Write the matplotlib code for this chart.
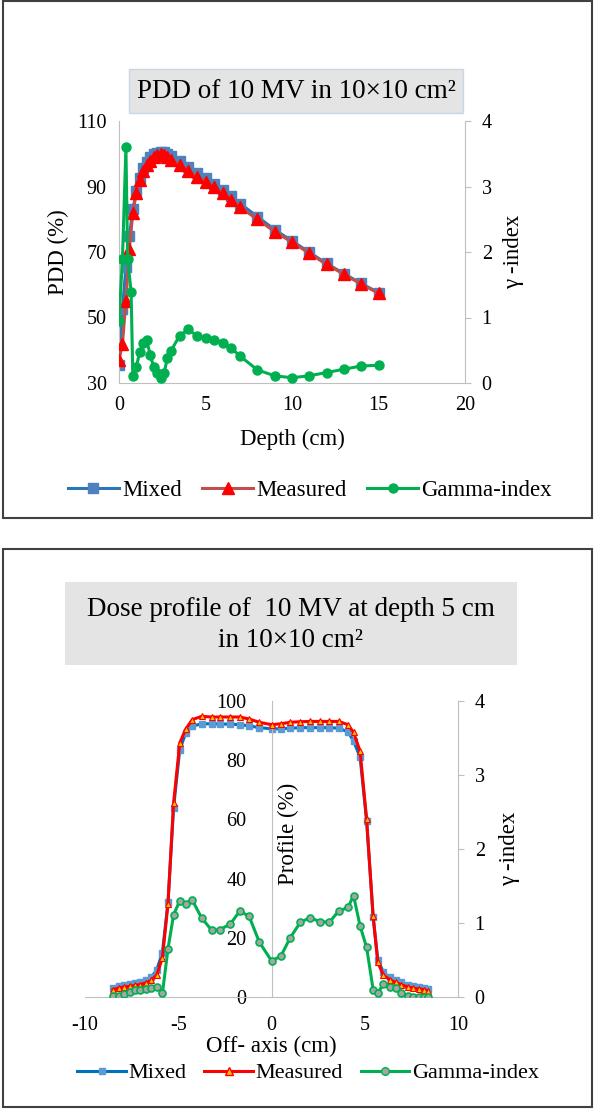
import numpy as np
import matplotlib
matplotlib.use('Agg')
import matplotlib.pyplot as plt
from matplotlib.patches import Rectangle
from matplotlib.lines import Line2D

plt.rcParams['font.family'] = ['Liberation Serif', 'DejaVu Serif']
plt.rcParams['axes.unicode_minus'] = False

# ---- PDD data (top chart) ----
pdd_depth = [0, 0.2, 0.4, 0.6, 0.8, 1.0, 1.2, 1.4, 1.6, 1.8, 2.0, 2.2, 2.4, 2.6, 2.8, 3.0,
             3.5, 4.0, 4.5, 5.0, 5.5, 6.0, 6.5, 7.0, 8, 9, 10, 11, 12, 13, 14, 15]
pdd_mixed = [35.5, 52.5, 65.5, 75.0, 83.0, 88.5, 92.5, 95.5, 97.5, 99.0, 99.8, 100.3, 100.5,
             100.4, 100.0, 99.3, 97.8, 96.0, 94.2, 92.6, 90.8, 88.9, 87.0, 84.8, 80.8, 76.8,
             73.4, 69.9, 66.5, 63.4, 60.4, 57.6]
pdd_measured = [37.0, 42.0, 55.0, 71.0, 82.0, 88.0, 92.0, 94.8, 96.6, 97.9, 98.9, 99.6, 99.9,
                99.6, 98.9, 98.2, 96.6, 94.8, 93.0, 91.4, 89.8, 87.9, 86.0, 83.6, 80.0, 76.2,
                73.0, 69.6, 66.2, 63.2, 60.2, 57.4]
gam_depth = [0, 0.2, 0.4, 0.5, 0.7, 0.8, 1.0, 1.2, 1.4, 1.6, 1.8, 2.0, 2.2, 2.4, 2.6, 2.8,
             3.0, 3.5, 4.0, 4.5, 5.0, 5.5, 6.0, 6.5, 7.0, 8, 9, 10, 11, 12, 13, 14, 15]
gam_pdd = [0.95, 1.90, 3.60, 1.90, 1.39, 0.10, 0.25, 0.47, 0.61, 0.66, 0.43, 0.25, 0.16, 0.08,
           0.15, 0.38, 0.49, 0.72, 0.82, 0.72, 0.68, 0.66, 0.61, 0.53, 0.41, 0.20, 0.11, 0.08,
           0.11, 0.16, 0.21, 0.26, 0.27]

# ---- dose profile data (bottom chart) ----
off_axis = [-8.5, -8.2, -7.9, -7.6, -7.3, -7.05, -6.75, -6.45, -6.15, -5.85, -5.55, -5.25,
            -4.92, -4.6, -4.25, -3.75, -3.2, -2.75, -2.2, -1.7, -1.2, -0.65, 0, 0.5, 1.0,
            1.55, 2.05, 2.6, 3.1, 3.6, 4.1, 4.4, 4.75, 5.1, 5.45, 5.7, 6.0, 6.35, 6.65,
            6.95, 7.3, 7.6, 7.9, 8.2, 8.4]
prof_mixed = [3.0, 3.6, 4.0, 4.3, 4.6, 5.0, 5.6, 6.6, 9.2, 15.0, 32.0, 64.0, 83.5, 89.2, 91.5,
              92.3, 92.3, 92.2, 92.2, 92.0, 91.6, 91.0, 90.6, 90.6, 90.8, 91.0, 91.0, 91.0,
              91.0, 90.8, 89.6, 86.5, 81.0, 59.5, 27.0, 12.6, 8.3, 6.6, 5.6, 4.9, 4.2, 3.7,
              3.3, 3.0, 2.6]
prof_measured = [2.5, 3.0, 3.4, 3.6, 3.9, 4.2, 4.7, 5.6, 7.5, 13.2, 31.5, 65.5, 85.8, 90.5,
                 93.7, 94.8, 94.6, 94.6, 94.6, 94.6, 93.9, 92.8, 92.0, 92.3, 92.8, 93.0, 93.1,
                 93.1, 93.1, 93.1, 92.0, 89.4, 83.0, 60.0, 27.2, 11.7, 7.4, 5.8, 4.9, 4.2,
                 3.4, 3.0, 2.7, 2.5, 1.9]
gam_prof = [0.01, 0.02, 0.04, 0.07, 0.09, 0.10, 0.11, 0.12, 0.14, 0.05, 0.65, 1.11, 1.30,
            1.26, 1.31, 1.07, 0.90, 0.91, 0.99, 1.16, 1.09, 0.74, 0.49, 0.55, 0.80, 1.01,
            1.07, 1.02, 1.01, 1.16, 1.21, 1.37, 0.96, 0.67, 0.10, 0.06, 0.17, 0.13, 0.12,
            0.06, 0.01, 0.0, 0.0, 0.0, 0.0]

W, H = 600, 1120
fig = plt.figure(figsize=(W / 100, H / 100), dpi=100)

def px_axes(x0, y0, x1, y1):
    # pixel box (top-left origin) -> figure fraction
    return [x0 / W, 1 - y1 / H, (x1 - x0) / W, (y1 - y0) / H]

def px_rect(x0, y0, x1, y1, **kw):
    r = Rectangle((x0 / W, 1 - y1 / H), (x1 - x0) / W, (y1 - y0) / H,
                  transform=fig.transFigure, **kw)
    fig.patches.append(r)

grey = '#BFBFBF'
tick_fs = 14.5
lab_fs = 16.5

# outer frames + title boxes
px_rect(3, 1, 592, 518, fill=False, edgecolor='#404040', lw=1.5)
px_rect(3, 549, 592, 1107, fill=False, edgecolor='#404040', lw=1.5)
px_rect(129, 69, 463, 113, facecolor='#E4E4E4', edgecolor='#C9D6E6', lw=1)
px_rect(65, 582, 517, 665, facecolor='#E4E4E4', edgecolor='none')
fig.text(296 / W, 1 - 91 / H, 'PDD of 10 MV in 10×10 cm²', ha='center', va='center', fontsize=19.5)
fig.text(291 / W, 1 - 625 / H, 'Dose profile of  10 MV at depth 5 cm\nin 10×10 cm²',
         ha='center', va='center', fontsize=19.5, linespacing=1.3)

# ---------------- top chart ----------------
ax1 = fig.add_axes(px_axes(119, 121, 465, 383))
ax1.plot(pdd_depth, pdd_mixed, color='#2E75B6', lw=2.2, marker='s', ms=7,
         mfc='#4F81BD', mec='#4F81BD', zorder=2)
ax1.plot(pdd_depth, pdd_measured, color='#C0504D', lw=2.2, marker='^', ms=8,
         mfc='#FF0000', mec='#FF0000', zorder=3)
ax1.set_xlim(0, 20)
ax1.set_ylim(30, 110)
ax1.set_xticks([0, 5, 10, 15, 20])
ax1.set_yticks([30, 50, 70, 90, 110])
ax1.set_xlabel('Depth (cm)', fontsize=lab_fs, labelpad=10)
ax1.set_ylabel('PDD (%)', fontsize=lab_fs, labelpad=6)
ax2 = ax1.twinx()
ax2.plot(gam_depth, gam_pdd, color='#00B050', lw=2.2, marker='o', ms=6.5,
         mfc='#00B050', mec='#00B050')
ax2.set_ylim(0, 4)
ax2.set_yticks([0, 1, 2, 3, 4])
ax2.set_ylabel('γ -index', fontsize=lab_fs, labelpad=8)
for a in (ax1, ax2):
    for s in a.spines.values():
        s.set_visible(False)
    a.tick_params(labelsize=tick_fs, colors='black')
ax1.spines['left'].set_visible(True)
ax1.spines['bottom'].set_visible(True)
ax1.spines['left'].set_color(grey)
ax1.spines['bottom'].set_color(grey)
ax1.tick_params(length=0, pad=9)
ax2.spines['right'].set_visible(True)
ax2.spines['right'].set_color(grey)
ax2.tick_params(axis='y', length=4, color=grey, pad=8)

h_mix = Line2D([], [], color='#2E75B6', lw=2.2, marker='s', ms=7, mfc='#4F81BD', mec='#4F81BD')
h_mea = Line2D([], [], color='#C0504D', lw=2.2, marker='^', ms=8, mfc='#FF0000', mec='#FF0000')
h_gam = Line2D([], [], color='#00B050', lw=2.2, marker='o', ms=6.5, mfc='#00B050', mec='#00B050')
fig.legend([h_mix, h_mea, h_gam], ['Mixed', 'Measured', 'Gamma-index'], ncol=3,
           loc='center', bbox_to_anchor=(310 / W, 1 - 490 / H), frameon=False,
           fontsize=lab_fs, handlelength=2.2, handletextpad=0.15, columnspacing=0.9)

# ---------------- bottom chart ----------------
bx1 = fig.add_axes(px_axes(85, 701, 458, 997))
bx1.plot(off_axis, prof_mixed, color='#0070C0', lw=2.2, marker='s', ms=4.5,
         mfc='#5B9BD5', mec='#5B9BD5', zorder=2)
bx1.plot(off_axis, prof_measured, color='#FF0000', lw=2.2, marker='^', ms=5,
         mfc='#FFC000', mec='#FF0000', mew=0.8, zorder=3)
bx1.set_xlim(-10, 10)
bx1.set_ylim(0, 100)
bx1.set_xticks([-10, -5, 0, 5, 10])
bx1.set_yticks([0, 20, 40, 60, 80, 100])
bx1.set_xlabel('Off- axis (cm)', fontsize=lab_fs, labelpad=0)
bx1.text(0.545, 0.55, 'Profile (%)', transform=bx1.transAxes, rotation=90,
         ha='center', va='center', fontsize=lab_fs)
bx2 = bx1.twinx()
bx2.plot(off_axis, gam_prof, color='#00B050', lw=2.2, marker='o', ms=5,
         mfc='#A5A5A5', mec='#00B050', mew=1.2)
bx2.set_ylim(0, 4)
bx2.set_yticks([0, 1, 2, 3, 4])
bx2.set_ylabel('γ -index', fontsize=lab_fs, labelpad=10)
for a in (bx1, bx2):
    for s in a.spines.values():
        s.set_visible(False)
    a.tick_params(labelsize=tick_fs, colors='black')
bx1.spines['left'].set_visible(True)
bx1.spines['left'].set_position(('data', 0))
bx1.spines['left'].set_color(grey)
bx1.spines['bottom'].set_visible(True)
bx1.spines['bottom'].set_color(grey)
bx1.tick_params(axis='y', length=0, pad=18)
bx1.tick_params(axis='x', length=0, pad=14)
bx2.spines['right'].set_visible(True)
bx2.spines['right'].set_color(grey)
bx2.tick_params(axis='y', length=4, color=grey, pad=8)

g_mix = Line2D([], [], color='#0070C0', lw=2.2, marker='s', ms=5, mfc='#5B9BD5', mec='#5B9BD5')
g_mea = Line2D([], [], color='#FF0000', lw=2.2, marker='^', ms=5.5, mfc='#FFC000', mec='#FF0000')
g_gam = Line2D([], [], color='#00B050', lw=2.2, marker='o', ms=5.5, mfc='#A5A5A5', mec='#00B050')
fig.legend([g_mix, g_mea, g_gam], ['Mixed', 'Measured', 'Gamma-index'], ncol=3,
           loc='center', bbox_to_anchor=(308 / W, 1 - 1073 / H), frameon=False,
           fontsize=16, handlelength=2.2, handletextpad=0.1, columnspacing=0.8)

fig.savefig('out.png', dpi=100)
